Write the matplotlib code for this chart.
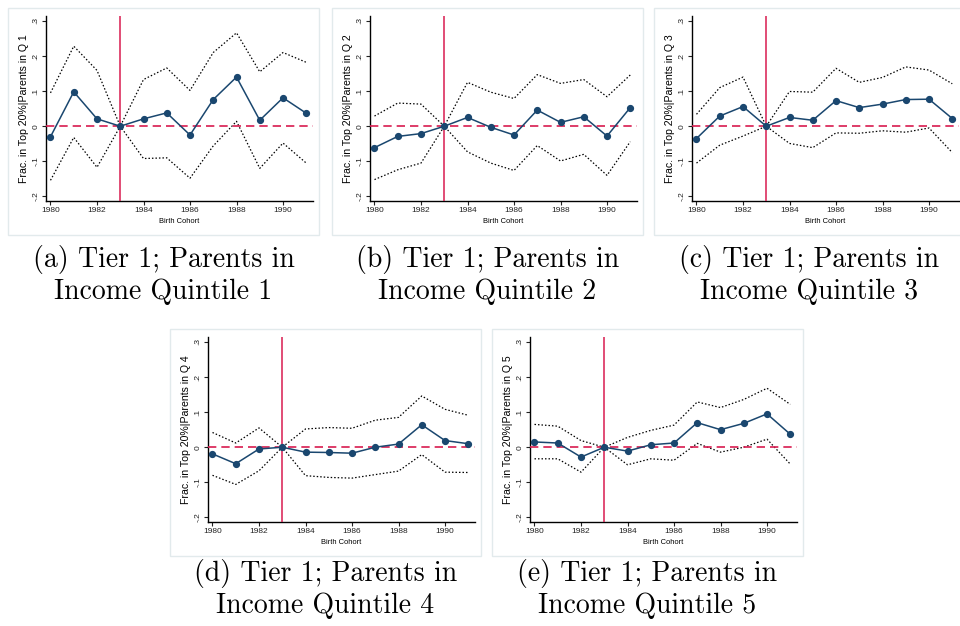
import numpy as np
import matplotlib.pyplot as plt
from matplotlib.patches import Rectangle

years = [1980, 1981, 1982, 1983, 1984, 1985, 1986, 1987, 1988, 1989, 1990, 1991]

q1_est = [-0.030, 0.098, 0.021, 0.0, 0.021, 0.038, -0.025, 0.076, 0.140, 0.017, 0.081, 0.037]
q1_hi = [0.095, 0.228, 0.159, 0.0, 0.133, 0.166, 0.102, 0.210, 0.266, 0.155, 0.210, 0.182]
q1_lo = [-0.154, -0.032, -0.117, 0.0, -0.092, -0.090, -0.148, -0.056, 0.014, -0.120, -0.048, -0.105]

q2_est = [-0.061, -0.029, -0.021, 0.0, 0.025, -0.003, -0.025, 0.046, 0.011, 0.027, -0.028, 0.053]
q2_hi = [0.029, 0.066, 0.063, 0.0, 0.125, 0.097, 0.079, 0.147, 0.122, 0.133, 0.084, 0.146]
q2_lo = [-0.152, -0.124, -0.105, 0.0, -0.073, -0.105, -0.126, -0.055, -0.099, -0.080, -0.140, -0.044]

q3_est = [-0.035, 0.029, 0.056, 0.0, 0.025, 0.017, 0.073, 0.053, 0.063, 0.076, 0.077, 0.022]
q3_hi = [0.034, 0.110, 0.140, 0.0, 0.099, 0.097, 0.165, 0.125, 0.139, 0.169, 0.160, 0.121]
q3_lo = [-0.105, -0.054, -0.028, 0.0, -0.049, -0.061, -0.019, -0.020, -0.013, -0.017, -0.005, -0.075]

q4_est = [-0.019, -0.047, -0.005, 0.0, -0.014, -0.015, -0.017, 0.0, 0.009, 0.064, 0.019, 0.010]
q4_hi = [0.042, 0.012, 0.055, 0.0, 0.052, 0.056, 0.054, 0.077, 0.085, 0.146, 0.108, 0.091]
q4_lo = [-0.080, -0.106, -0.067, 0.0, -0.081, -0.086, -0.088, -0.078, -0.068, -0.021, -0.071, -0.072]

q5_est = [0.015, 0.012, -0.028, 0.0, -0.011, 0.007, 0.012, 0.070, 0.050, 0.068, 0.095, 0.037]
q5_hi = [0.065, 0.060, 0.019, 0.0, 0.028, 0.048, 0.063, 0.129, 0.113, 0.136, 0.168, 0.122]
q5_lo = [-0.033, -0.033, -0.071, 0.0, -0.050, -0.033, -0.037, 0.011, -0.014, 0.0, 0.023, -0.048]

ytick_vals = [-0.2, -0.1, 0, 0.1, 0.2, 0.3]
ytick_labels = ['-.2', '-.1', '0', '.1', '.2', '.3']
xtick_vals = [1980, 1982, 1984, 1986, 1988, 1990]

# letter, quintile, data, frame left/top (px), caption baselines below frame
panels = [
    ('a', 1, q1_est, q1_hi, q1_lo, 8, 8, 32, 64),
    ('b', 2, q2_est, q2_hi, q2_lo, 332, 8, 32, 64),
    ('c', 3, q3_est, q3_hi, q3_lo, 654, 8, 32, 64),
    ('d', 4, q4_est, q4_hi, q4_lo, 170, 329, 25, 57),
    ('e', 5, q5_est, q5_hi, q5_lo, 492, 329, 25, 57),
]

W, H = 960, 626
fig = plt.figure(figsize=(W / 100, H / 100), dpi=100)

navy = '#1a476f'
red = '#d81b4f'

for letter, q, est, hi, lo, fx, fy, b1, b2 in panels:
    fw, fh = 311, 227
    # light frame around each graph
    fig.patches.append(Rectangle((fx / W, 1 - (fy + fh) / H), fw / W, fh / H,
                                 transform=fig.transFigure, facecolor='none',
                                 edgecolor='#e2eaec', lw=1.0, zorder=-1))
    left = fx + 37.5
    right = fx + 305
    top = fy + 8
    bottom = fy + 193
    ax = fig.add_axes([left / W, 1 - bottom / H, (right - left) / W, (bottom - top) / H])
    ax.set_facecolor('none')
    ax.plot(years, hi, color='black', ls=(0, (1.2, 1.6)), lw=0.9, zorder=2)
    ax.plot(years, lo, color='black', ls=(0, (1.2, 1.6)), lw=0.9, zorder=2)
    ax.axvline(1983, color=red, lw=1.1, zorder=3)
    ax.axhline(0, color=red, lw=1.2, ls=(0, (5, 3)), zorder=3)
    ax.plot(years, est, color=navy, lw=1.1, marker='o', ms=4.2, zorder=4)
    ax.set_xlim(1979.785, 1991.29)
    ax.set_ylim(-0.213, 0.314)
    ax.set_xticks(xtick_vals)
    ax.set_xticklabels([str(v) for v in xtick_vals], fontsize=6, family='Liberation Sans')
    ax.set_yticks(ytick_vals)
    ax.set_yticklabels(ytick_labels, fontsize=6, family='Liberation Sans',
                       rotation=90, va='center')
    ax.tick_params(length=3, width=0.8, pad=1.5, colors='#222222')
    for s in ['top', 'right']:
        ax.spines[s].set_visible(False)
    for s in ['left', 'bottom']:
        ax.spines[s].set_linewidth(1.0)
    ax.set_ylabel('Frac. in Top 20%|Parents in Q ' + str(q), fontsize=7.6,
                  family='Liberation Sans', labelpad=2)
    ax.set_xlabel('Birth Cohort', fontsize=5.4, family='Liberation Sans', labelpad=3)

    cx = (fx + fw / 2) / W
    fig.text(cx, 1 - (fy + fh + b1) / H, '(' + letter + ') Tier 1; Parents in',
             ha='center', va='baseline', family='cmr10', fontsize=20)
    fig.text(cx, 1 - (fy + fh + b2) / H, 'Income Quintile ' + str(q),
             ha='center', va='baseline', family='cmr10', fontsize=20)

fig.savefig('out.png', dpi=100)
